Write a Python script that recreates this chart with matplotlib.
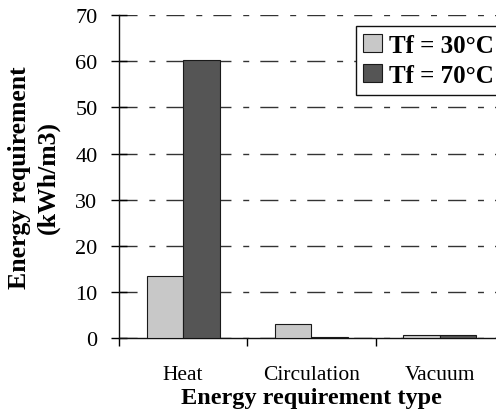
import numpy as np
import matplotlib
matplotlib.use('Agg')
import matplotlib.pyplot as plt

plt.rcParams['font.family'] = ['Liberation Serif', 'DejaVu Serif']

# data
categories = ['Heat', 'Circulation', 'Vacuum']
series_names = ['Tf = 30°C', 'Tf = 70°C']
tf30 = [13.6, 3.2, 0.8]
tf70 = [60.2, 0.3, 0.8]
yticks = [0, 10, 20, 30, 40, 50, 60, 70]

fig = plt.figure(figsize=(4.96, 4.10), dpi=100)
# axes run past the right edge like in the original (clipped)
ax = fig.add_axes([0.2399, 0.1724, 0.776, 0.7885])

x = np.arange(len(categories))
w = 0.285
ax.bar(x - w / 2, tf30, w, color='#c8c8c8', edgecolor='#1a1a1a', linewidth=0.8,
       label=series_names[0], zorder=3)
ax.bar(x + w / 2, tf70, w, color='#555555', edgecolor='#1a1a1a', linewidth=0.8,
       label=series_names[1], zorder=3)

ax.set_xlim(-0.5, 2.5)
ax.set_ylim(0, 70)
ax.set_yticks(yticks)
ax.tick_params(axis='y', direction='inout', length=12, width=1, labelsize=16, pad=9.5)

# gridlines with long-short dash pattern
ax.yaxis.grid(True, color='#333333', linewidth=1, linestyle=(0, (13, 8.5, 4.3, 8)), zorder=1)
ax.set_axisbelow(True)

# category boundary ticks, labels on minor ticks at centres
ax.set_xticks([-0.5, 0.5, 1.5])
ax.set_xticklabels([])
ax.set_xticks(x, minor=True)
ax.set_xticklabels(categories, minor=True)
ax.tick_params(axis='x', which='major', direction='out', length=5.5, width=1)
ax.tick_params(axis='x', which='minor', length=0, labelsize=15.5, pad=19.5)

for s in ['top', 'right']:
    ax.spines[s].set_visible(False)
for s in ['left', 'bottom']:
    ax.spines[s].set_linewidth(1)
    ax.spines[s].set_color('#111111')

ax.set_xlabel('Energy requirement type', fontsize=17.5, fontweight='bold', labelpad=2)
ax.set_ylabel('Energy requirement\n(kWh/m3)', fontsize=18.5, fontweight='bold',
              labelpad=11, linespacing=1.3)

leg = ax.legend(loc='upper left', bbox_to_anchor=(0.615, 0.966), frameon=True,
                fancybox=False, edgecolor='#111111', framealpha=1,
                prop={'size': 18, 'weight': 'bold'}, handlelength=0.75,
                handleheight=0.75, handletextpad=0.3, labelspacing=0.3,
                borderpad=0.3, borderaxespad=0)
leg.get_frame().set_linewidth(1)

fig.savefig('out.png', dpi=100)
